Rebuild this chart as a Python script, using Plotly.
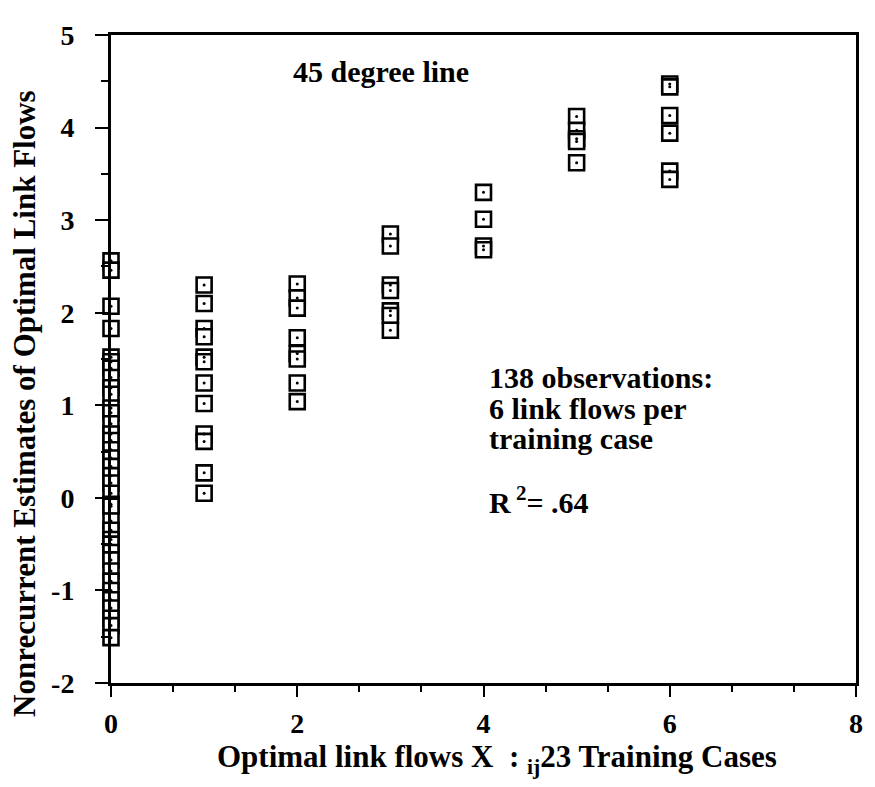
import plotly.graph_objects as go

# Optimal link flows (x) and nonrecurrent estimates (y), read per column
col0 = [2.56, 2.46, 2.07, 1.83, 1.52, 1.47, 1.40, 1.30, 1.19, 1.12, 0.97, 0.92,
        0.80, 0.69, 0.62, 0.52, 0.43, 0.34, 0.24, 0.16, 0.05, -0.07, -0.09,
        -0.25, -0.35, -0.45, -0.50, -0.59, -0.67, -0.79, -0.90, -1.00, -1.10,
        -1.19, -1.30, -1.38, -1.51]
col1 = [2.30, 2.10, 1.83, 1.74, 1.52, 1.47, 1.24, 1.02, 0.69, 0.61, 0.27, 0.05]
col2 = [2.31, 2.16, 2.05, 1.73, 1.56, 1.50, 1.24, 1.04]
col3 = [2.85, 2.72, 2.30, 2.24, 2.02, 1.97, 1.81]
col4 = [3.30, 3.01, 2.72, 2.68]
col5 = [4.12, 3.97, 3.88, 3.85, 3.62]
col6 = [4.47, 4.44, 4.13, 3.94, 3.53, 3.44]
columns = [col0, col1, col2, col3, col4, col5, col6]
x_levels = [0, 1, 2, 3, 4, 5, 6]

x_ticks = [0, 2, 4, 6, 8]
x_ticktext = ["0", "2", "4", "6", "8"]
y_ticks = [-2, -1, 0, 1, 2, 3, 4, 5]
y_ticktext = ["-2", "-1", "0", "1", "2", "3", "4", "5"]

xs, ys = [], []
for xv, col in zip(x_levels, columns):
    xs += [xv] * len(col)
    ys += col

FONT = "Liberation Serif, Times New Roman, serif"

fig = go.Figure()
fig.add_trace(go.Scatter(
    x=xs, y=ys, mode="markers", cliponaxis=False, showlegend=False,
    marker=dict(symbol="square", size=15, color="white",
                line=dict(color="black", width=2.6))))
fig.add_trace(go.Scatter(
    x=xs, y=ys, mode="markers", cliponaxis=False, showlegend=False,
    marker=dict(symbol="circle", size=3, color="black", line=dict(width=0))))

# page has an 8px body margin: figure is shifted by 8px right/down
fig.update_layout(
    width=867, height=779,
    margin=dict(l=103, r=14, t=17, b=104),
    paper_bgcolor="white", plot_bgcolor="white",
    font=dict(family=FONT, color="black", size=28, weight="bold"),
    xaxis=dict(range=[0, 8], tickvals=x_ticks, ticktext=x_ticktext,
               ticks="outside", ticklen=11,
               tickwidth=2, tickcolor="black", showline=True, linewidth=3,
               linecolor="black", mirror=True, showgrid=False, zeroline=False,
               ticklabelstandoff=2,
               tickfont=dict(family=FONT, size=28, weight="bold"),
               minor=dict(dtick=2/3, tick0=0, ticks="outside", ticklen=6,
                          tickwidth=2, tickcolor="black", showgrid=False)),
    yaxis=dict(range=[-2, 5], tickvals=y_ticks, ticktext=y_ticktext,
               ticks="outside", ticklen=13,
               tickwidth=2, tickcolor="black", showline=True, linewidth=3,
               linecolor="black", mirror=True, showgrid=False, zeroline=False,
               ticklabelstandoff=15,
               tickfont=dict(family=FONT, size=28, weight="bold"),
               minor=dict(dtick=0.5, tick0=0, ticks="outside", ticklen=7,
                          tickwidth=2, tickcolor="black", showgrid=False)),
)

ann_font = dict(family=FONT, size=30, color="black", weight="bold")
anns = [
    dict(text="45 degree line", x=(383 - 111) / 750, y=(683 - 62) / 658,
         xref="paper", yref="paper", xanchor="center", yanchor="middle"),
    dict(text="138 observations:", x=4.04, y=1.30, xanchor="left", yanchor="middle"),
    dict(text="6 link flows per", x=4.04, y=0.96, xanchor="left", yanchor="middle"),
    dict(text="training case", x=4.04, y=0.64, xanchor="left", yanchor="middle"),
    dict(text="R<sup> 2</sup>= .64", x=4.04, y=-0.02, xanchor="left", yanchor="middle"),
    dict(text="Optimal link flows X&nbsp;&nbsp;: <sub>ij</sub>23 Training Cases",
         font=dict(family=FONT, size=31, color="black", weight="bold"),
         x=(500 - 111) / 750, y=(683 - 760) / 658, xref="paper", yref="paper",
         xanchor="center", yanchor="middle"),
    dict(text="Nonrecurrent Estimates of Optimal Link Flows", textangle=-90,
         font=dict(family=FONT, size=31, color="black", weight="bold"),
         x=(24 - 111) / 750, y=(683 - 399) / 658, xref="paper", yref="paper",
         xanchor="center", yanchor="middle"),
]
for a in anns:
    a.setdefault("xref", "x")
    a.setdefault("yref", "y")
    a.setdefault("font", ann_font)
    a["showarrow"] = False
    fig.add_annotation(**a)

fig.write_html("out.html")
